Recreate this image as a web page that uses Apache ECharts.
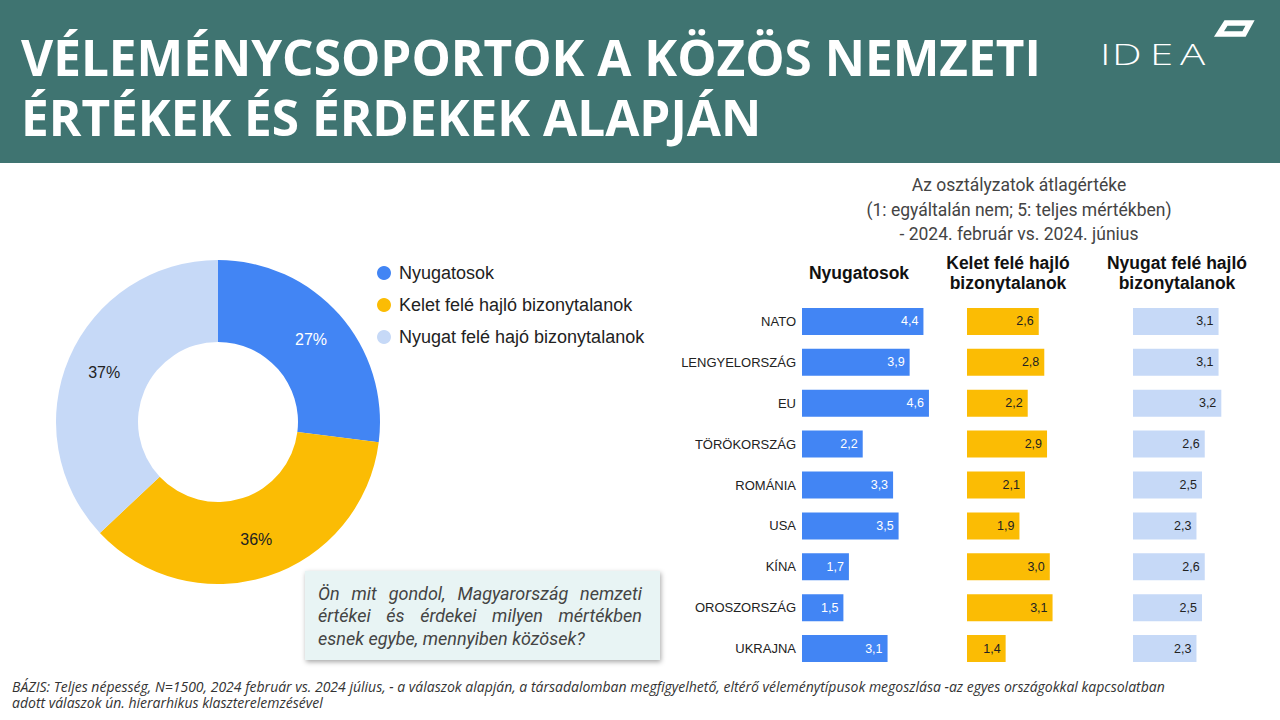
<!DOCTYPE html>
<html>
<head>
<meta charset="utf-8">
<script src="https://cdn.jsdelivr.net/npm/echarts@6/dist/echarts.min.js"></script>
<style>
html,body{margin:0;padding:0;background:#fff;}
#c{width:1280px;height:720px;}
</style>
</head>
<body>
<div id="c"></div>
<script>
// ---- data ----
const segments = ['Nyugatosok', 'Kelet felé hajló bizonytalanok', 'Nyugat felé hajó bizonytalanok'];
const shares = [27, 36, 37];
const countries = ['NATO', 'LENGYELORSZÁG', 'EU', 'TÖRÖKORSZÁG', 'ROMÁNIA', 'USA', 'KÍNA', 'OROSZORSZÁG', 'UKRAJNA'];
const nyugatosok = [4.4, 3.9, 4.6, 2.2, 3.3, 3.5, 1.7, 1.5, 3.1];
const keletFele = [2.6, 2.8, 2.2, 2.9, 2.1, 1.9, 3.0, 3.1, 1.4];
const nyugatFele = [3.1, 3.1, 3.2, 2.6, 2.5, 2.3, 2.6, 2.5, 2.3];
const columnTitles = ['Nyugatosok', 'Kelet felé hajló\nbizonytalanok', 'Nyugat felé hajló\nbizonytalanok'];
const titleLines = ['VÉLEMÉNYCSOPORTOK A KÖZÖS NEMZETI', 'ÉRTÉKEK ÉS ÉRDEKEK ALAPJÁN'];
const questionLines = ['Ön mit gondol, Magyarország nemzeti', 'értékei és érdekei milyen mértékben', 'esnek egybe, mennyiben közösek?'];
const footerLines = ['BÁZIS: Teljes népesség, N=1500, 2024 február vs. 2024 július, - a válaszok alapján, a társadalomban megfigyelhető, eltérő véleménytípusok megoszlása -az egyes országokkal kapcsolatban',
  'adott válaszok ún. hierarhikus klaszterelemzésével'];

const colors = ['#4285f4', '#fbbc04', '#c6d9f7'];
const labelColors = ['#ffffff', '#222222', '#222222'];

const chart = echarts.init(document.getElementById('c'), null, {renderer: 'svg'});

const gridLefts = [802, 967, 1133];
const gridW = 138;
const grids = gridLefts.map(l => ({left: l, top: 301, width: gridW, height: 368, containLabel: false}));
const xAxes = gridLefts.map((l, i) => ({type: 'value', gridIndex: i, min: 0, max: 5, show: false}));
const yAxes = gridLefts.map((l, i) => ({
  type: 'category', gridIndex: i, data: countries, inverse: true,
  axisLine: {show: false}, axisTick: {show: false}, splitLine: {show: false},
  axisLabel: {show: i === 0, color: '#222', fontFamily: 'Liberation Sans, Arial', fontSize: 13, margin: 6}
}));
const barData = [nyugatosok, keletFele, nyugatFele];
const barSeries = barData.map((d, i) => ({
  type: 'bar', xAxisIndex: i, yAxisIndex: i, data: d, barWidth: 27,
  itemStyle: {color: colors[i]},
  label: {show: true, position: 'insideRight', distance: 5, color: labelColors[i],
    fontFamily: 'Liberation Sans, Arial', fontSize: 12.5,
    formatter: p => p.value.toFixed(1).replace('.', ',')},
  silent: true
}));

const colCenters = [859, 1008, 1177];
const graphics = [
  {type: 'rect', shape: {x: 0, y: 0, width: 1280, height: 163}, style: {fill: '#3f7471'}},
  {type: 'polygon', shape: {points: [[1219,34],[1226,23],[1250,23],[1244,34]]}, style: {fill: 'none', stroke: '#fff', lineWidth: 5.5, lineJoin: 'miter'}},
  {type: 'text', x: 1019, y: 173, style: {text: 'Az osztályzatok átlagértéke\n(1: egyáltalán nem; 5: teljes mértékben)\n- 2024. február vs. 2024. június',
    fill: '#444', font: '17.5px Roboto', align: 'center', lineHeight: 24.5}},
  // callout
  {type: 'rect', shape: {x: 305, y: 571, width: 355, height: 89}, style: {fill: '#e8f4f4', shadowBlur: 5, shadowColor: 'rgba(0,0,0,0.35)', shadowOffsetX: 1, shadowOffsetY: 2}}
];
// title
titleLines.forEach((t, i) => {
  graphics.push({type: 'text', x: 21, y: 57 + i * 60, style: {text: t, fill: '#fff', font: 'bold 49.5px "Open Sans"', verticalAlign: 'middle'}});
});
// logo letters (wide, light)
[['I', 1100], ['D', 1112], ['E', 1150], ['A', 1180]].forEach(([ch, x]) => {
  graphics.push({type: 'text', x: x, y: 53, scaleX: 1.4, style: {text: ch, fill: '#fff', font: '300 30px "Open Sans"', verticalAlign: 'middle'}});
});
// footer
footerLines.forEach((t, i) => {
  graphics.push({type: 'text', x: 12, y: 686 + i * 16, style: {text: t, fill: '#333', font: 'italic 14px "Open Sans"', verticalAlign: 'middle'}});
});
// justified question text
const qFont = 'italic 18px Roboto';
const mctx = document.createElement('canvas').getContext('2d');
mctx.font = qFont;
const qLeft = 318, qRight = 642;
questionLines.forEach((line, li) => {
  const words = line.split(' ');
  const y = 593 + li * 22.5;
  if (li === questionLines.length - 1) {
    graphics.push({type: 'text', x: qLeft, y: y, style: {text: line, fill: '#444', font: qFont, verticalAlign: 'middle'}});
    return;
  }
  const widths = words.map(w => mctx.measureText(w).width);
  const total = widths.reduce((a, b) => a + b, 0);
  const gap = (qRight - qLeft - total) / (words.length - 1);
  let x = qLeft;
  words.forEach((w, wi) => {
    graphics.push({type: 'text', x: x, y: y, style: {text: w, fill: '#444', font: qFont, verticalAlign: 'middle'}});
    x += widths[wi] + gap;
  });
});
columnTitles.forEach((t, i) => {
  const twoLine = t.indexOf('\n') >= 0;
  graphics.push({type: 'text', x: colCenters[i], y: twoLine ? 253 : 263,
    style: {text: t, fill: '#111', font: 'bold 17.5px "Liberation Sans", Arial', align: 'center', lineHeight: 20}});
});

chart.setOption({
  animation: false,
  legend: {
    left: 372, top: 259, orient: 'vertical', itemGap: 14, icon: 'circle', itemWidth: 14, itemHeight: 14,
    textStyle: {fontFamily: 'Liberation Sans, Arial', fontSize: 18, color: '#222', padding: [0, 0, 0, 3]},
    data: segments, selectedMode: false
  },
  grid: grids,
  xAxis: xAxes,
  yAxis: yAxes,
  series: [
    {type: 'pie', center: [218, 422], radius: [80, 162], startAngle: 90, clockwise: true,
      silent: true,
      data: segments.map((s, i) => ({name: s, value: shares[i], itemStyle: {color: colors[i]},
        label: {color: labelColors[i]}})),
      label: {show: true, position: 'inside', formatter: '{c}%', fontFamily: 'Liberation Sans, Arial', fontSize: 16},
      labelLine: {show: false}
    },
    ...barSeries
  ],
  graphic: graphics
});
</script>
</body>
</html>
